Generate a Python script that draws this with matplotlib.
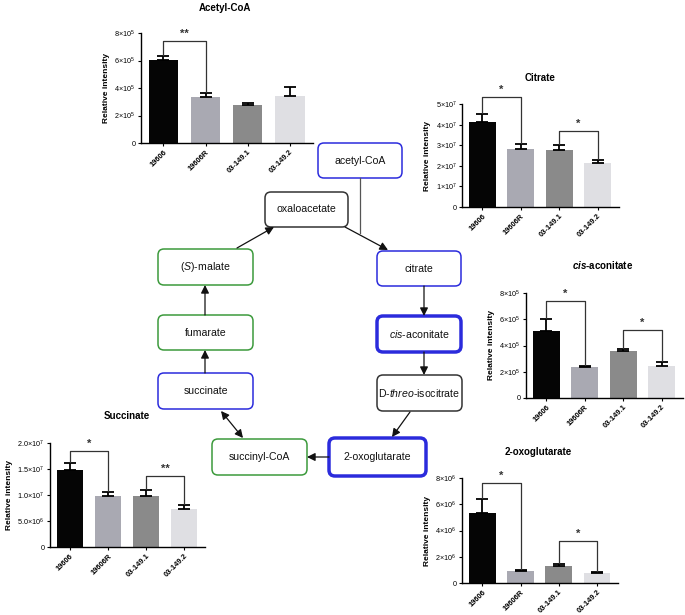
import numpy as np
import matplotlib
matplotlib.use('Agg')
import matplotlib.pyplot as plt
from matplotlib.patches import FancyBboxPatch

plt.rcParams['font.family'] = ['Liberation Sans', 'DejaVu Sans']
plt.rcParams['mathtext.fontset'] = 'custom'
plt.rcParams['mathtext.rm'] = 'Liberation Sans'
plt.rcParams['mathtext.it'] = 'Liberation Sans:italic'
plt.rcParams['mathtext.bf'] = 'Liberation Sans:bold'
plt.rcParams['mathtext.bfit'] = 'Liberation Sans:italic:bold'

W, H = 685, 615

# ---- data ----
strains = ['19606', '19606R', '03-149.1', '03-149.2']
bar_colors = ['#050505', '#a9a9b2', '#8a8a8a', '#dfdfe3']

acetyl_mean = [6.05e5, 3.32e5, 2.80e5, 3.43e5]
acetyl_err = [0.25e5, 0.32e5, 0.12e5, 0.65e5]
citrate_mean = [4.12e7, 2.80e7, 2.77e7, 2.14e7]
citrate_err = [0.40e7, 0.25e7, 0.24e7, 0.12e7]
cis_mean = [5.10e5, 2.35e5, 3.55e5, 2.45e5]
cis_err = [0.90e5, 0.07e5, 0.15e5, 0.30e5]
succ_mean = [1.49e7, 0.99e7, 0.975e7, 0.73e7]
succ_err = [0.13e7, 0.06e7, 0.12e7, 0.07e7]
oxo_mean = [5.32e6, 0.93e6, 1.28e6, 0.80e6]
oxo_err = [1.07e6, 0.05e6, 0.15e6, 0.05e6]

acetyl_ticks = [0, 2e5, 4e5, 6e5, 8e5]
acetyl_labels = ['0', r'$2{\times}10^5$', r'$4{\times}10^5$', r'$6{\times}10^5$', r'$8{\times}10^5$']
citrate_ticks = [0, 1e7, 2e7, 3e7, 4e7, 5e7]
citrate_labels = ['0', r'$1{\times}10^7$', r'$2{\times}10^7$', r'$3{\times}10^7$', r'$4{\times}10^7$', r'$5{\times}10^7$']
cis_ticks = [0, 2e5, 4e5, 6e5, 8e5]
cis_labels = ['0', r'$2{\times}10^5$', r'$4{\times}10^5$', r'$6{\times}10^5$', r'$8{\times}10^5$']
succ_ticks = [0, 5e6, 1e7, 1.5e7, 2e7]
succ_labels = ['0', r'$5.0{\times}10^6$', r'$1.0{\times}10^7$', r'$1.5{\times}10^7$', r'$2.0{\times}10^7$']
oxo_ticks = [0, 2e6, 4e6, 6e6, 8e6]
oxo_labels = ['0', r'$2{\times}10^6$', r'$4{\times}10^6$', r'$6{\times}10^6$', r'$8{\times}10^6$']

# significance brackets: (bar i, bar j, height, stars)
acetyl_sig = [(0, 1, 7.4e5, '**')]
citrate_sig = [(0, 1, 5.35e7, '*'), (2, 3, 3.69e7, '*')]
cis_sig = [(0, 1, 7.37e5, '*'), (2, 3, 5.2e5, '*')]
succ_sig = [(0, 1, 1.84e7, '*'), (2, 3, 1.36e7, '**')]
oxo_sig = [(0, 1, 7.62e6, '*'), (2, 3, 3.22e6, '*')]

# pathway nodes
nodes = ['acetyl-CoA', 'oxaloacetate', r'$\mathit{(S)}$-malate', 'citrate', 'fumarate',
         r'$\mathit{cis}$-aconitate', 'succinate', r'D-$\mathit{threo}$-isocitrate',
         'succinyl-CoA', '2-oxoglutarate']

fig = plt.figure(figsize=(W / 100, H / 100), dpi=100)

# ---- pathway diagram (pixel coordinates) ----
dg = fig.add_axes([0, 0, 1, 1])
dg.set_xlim(0, W)
dg.set_ylim(H, 0)
dg.axis('off')

blue, green, dark = '#2b2bdc', '#3c9a3c', '#333333'
box_pos = [(318, 143, 402, 178), (265, 192, 348, 227), (158, 249, 253, 285), (377, 251, 461, 286),
           (158, 315, 253, 350), (377, 316, 461, 352), (158, 373, 253, 409), (377, 375, 462, 411),
           (212, 439, 307, 475), (329, 438, 426, 476)]
box_col = [blue, dark, green, blue, green, blue, blue, dark, green, blue]
box_lw = [1.1, 1.1, 1.1, 1.1, 1.1, 2.5, 1.1, 1.1, 1.1, 2.5]

for name, (x0, y0, x1, y1), c, lw in zip(nodes, box_pos, box_col, box_lw):
    dg.add_patch(FancyBboxPatch((x0, y0), x1 - x0, y1 - y0,
                                boxstyle='round,pad=0,rounding_size=6',
                                fc='white', ec=c, lw=lw))
    dg.text((x0 + x1) / 2, (y0 + y1) / 2, name, ha='center', va='center', fontsize=7.6, color='#111111')

arrow_kw = dict(arrowstyle='-|>', color='#111111', lw=0.9, mutation_scale=12, shrinkA=0, shrinkB=0)
arrows = [((345, 227), (388, 250)), ((237, 248), (274, 227)), ((205, 315), (205, 285)),
          ((205, 373), (205, 350)), ((424, 286), (424, 316)), ((424, 352), (424, 375)),
          ((410, 412), (392, 437)), ((329, 457), (307, 457))]
for start, end in arrows:
    dg.annotate('', xy=end, xytext=start, arrowprops=arrow_kw)
dg.annotate('', xy=(243, 438), xytext=(221, 411),
            arrowprops=dict(arrowstyle='<|-|>', color='#111111', lw=0.9, mutation_scale=12,
                            shrinkA=0, shrinkB=0))
dg.plot([360, 360], [178, 233], color='#555555', lw=0.9)


# ---- bar charts ----
def bar_panel(rect, means, errs, ticks, labels, sig, title, title_xy):
    x0, y0, x1, y1 = rect
    ax = fig.add_axes([x0 / W, 1 - y1 / H, (x1 - x0) / W, (y1 - y0) / H])
    x = np.arange(len(strains))
    ax.bar(x, means, width=0.7, color=bar_colors, zorder=2)
    ax.errorbar(x, means, yerr=[np.zeros(len(means)), errs], fmt='none', ecolor='black',
                elinewidth=1.3, capsize=4.5, capthick=1.3, zorder=3)
    ax.set_xlim(-0.53, 3.55)
    ax.set_ylim(0, ticks[-1])
    ax.set_yticks(ticks)
    ax.set_yticklabels(labels, fontsize=5.2)
    ax.set_xticks(x)
    ax.set_xticklabels(strains, rotation=45, ha='right', rotation_mode='anchor',
                       fontsize=5.4, fontweight='bold')
    ax.tick_params(length=2.5, width=0.8, pad=1.5)
    for s in ['top', 'right']:
        ax.spines[s].set_visible(False)
    for s in ['left', 'bottom']:
        ax.spines[s].set_linewidth(1.0)
    ax.set_ylabel('Relative intensity', fontsize=6, fontweight='bold', labelpad=3)
    ax.patch.set_alpha(0)
    for i, j, h, star in sig:
        li = means[i] + errs[i] + ticks[-1] * 0.01
        lj = means[j] + errs[j] + ticks[-1] * 0.01
        ax.plot([i, i, j, j], [li, h, h, lj], color='#333333', lw=0.9, clip_on=False, zorder=4)
        ax.text((i + j) / 2, h + ticks[-1] * 0.02, star, ha='center', va='bottom',
                fontsize=8, fontweight='bold', color='#333333')
    fig.text(title_xy[0] / W, 1 - title_xy[1] / H, title, ha='center', va='center',
             fontsize=7, fontweight='bold')
    return ax


bar_panel((141, 33, 313, 143), acetyl_mean, acetyl_err, acetyl_ticks, acetyl_labels,
          acetyl_sig, 'Acetyl-CoA', (225, 8))
bar_panel((462, 104, 619, 207), citrate_mean, citrate_err, citrate_ticks, citrate_labels,
          citrate_sig, 'Citrate', (540, 78))
bar_panel((526, 293, 683, 398), cis_mean, cis_err, cis_ticks, cis_labels,
          cis_sig, r'$\mathbfit{cis}$-aconitate', (603, 265))
bar_panel((50, 443, 205, 547), succ_mean, succ_err, succ_ticks, succ_labels,
          succ_sig, 'Succinate', (127, 416))
bar_panel((462, 478, 618, 583), oxo_mean, oxo_err, oxo_ticks, oxo_labels,
          oxo_sig, '2-oxoglutarate', (538, 452))

fig.savefig('out.png', dpi=100)
